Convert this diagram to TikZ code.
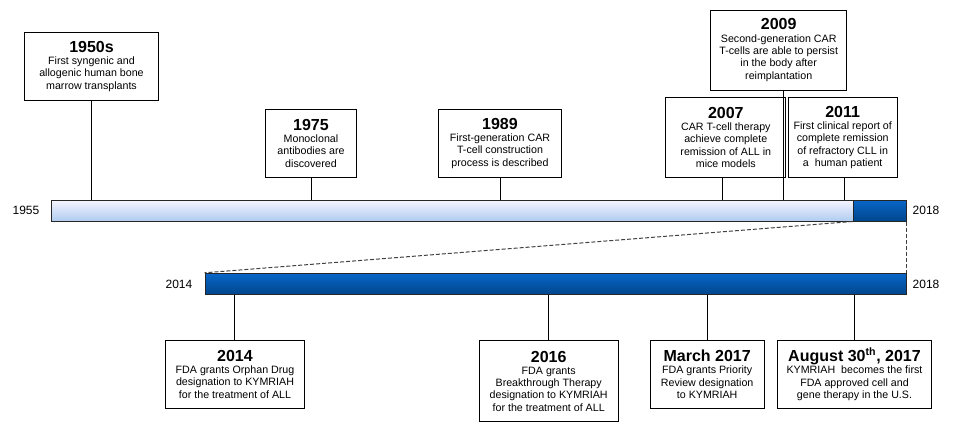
\documentclass[tikz,border=0pt]{standalone}
\usepackage{fontspec}
\setmainfont{Liberation Sans}
\begin{document}
\begin{tikzpicture}[x=0.75pt,y=-0.75pt,
  evbox/.style={draw=black,line width=0.75pt,fill=white,align=center,
    inner xsep=2pt,inner ysep=0pt,
    font=\fontsize{8}{9.2}\selectfont},
  ttl/.style={},
  yearlbl/.style={font=\fontsize{9}{10}\selectfont,inner sep=0pt},
  conn/.style={draw=black,line width=0.75pt},
  dashconn/.style={draw=black!75,line width=0.75pt,dash pattern=on 3pt off 1.5pt},
  lightbar/.style={draw=black!85,line width=0.75pt,top color=blue!4!white,bottom color={rgb,255:red,176;green,204;blue,240},inner sep=0pt},
  darkbar/.style={draw=black!85,line width=0.75pt,top color={rgb,255:red,8;green,102;blue,200},bottom color={rgb,255:red,0;green,70;blue,140},inner sep=0pt}
]
\newcommand{\yr}[1]{{\fontsize{12}{14}\selectfont\bfseries #1}}
\useasboundingbox (0,0) rectangle (954,432);

% bars
\node[lightbar,minimum width=601.5pt,minimum height=15.75pt] (top) at (452,210.5) {};
\node[darkbar,minimum width=39.75pt,minimum height=15.75pt] (topdark) at (879.5,210.5) {};
\node[darkbar,minimum width=525.75pt,minimum height=15.75pt] (bot) at (555.5,283.8) {};

% year labels
\node[yearlbl] (y1955) at (26,210) {1955};
\node[yearlbl] (y2018a) at (926,210) {2018};
\node[yearlbl] (y2014) at (179,284) {2014};
\node[yearlbl] (y2018b) at (926,284) {2018};

% zoom dashed lines
\draw[dashconn] (topdark.south west) -- (bot.north west);
\draw[dashconn] (topdark.south east) -- (bot.north east);

% upper boxes
\node[evbox,minimum width=100.8pt,minimum height=51pt] (b1950) at (91.5,66.3)
  {\yr{1950s}\\First syngenic and\\allogenic human bone\\marrow transplants};
\node[evbox,minimum width=68.6pt,minimum height=51pt] (b1975) at (311,143.3)
  {\yr{1975}\\Monoclonal\\antibodies are\\discovered};
\node[evbox,minimum width=92.5pt,minimum height=51pt] (b1989) at (500,143.3)
  {\yr{1989}\\First-generation CAR\\T-cell construction\\process is described};
\node[evbox,minimum width=89.8pt,minimum height=60pt] (b2007) at (725.8,137.3)
  {\yr{2007}\\CAR T-cell therapy\\achieve complete\\remission of ALL in\\mice models};
\node[evbox,minimum width=102pt,minimum height=60pt] (b2009) at (778.7,50)
  {\yr{2009}\\Second-generation CAR\\T-cells are able to persist\\in the body after\\reimplantation};
\node[evbox,minimum width=81.5pt,minimum height=60pt] (b2011) at (842.7,137.3)
  {\yr{2011}\\First clinical report of\\complete remission\\of refractory CLL in\\a\ \ human patient};

% lower boxes
\node[evbox,minimum width=104pt,minimum height=51pt] (c2014) at (235,374.3)
  {\yr{2014}\\FDA grants Orphan Drug\\designation to KYMRIAH\\for the treatment of ALL};
\node[evbox,minimum width=104.5pt,minimum height=61pt] (c2016) at (548.7,381)
  {\yr{2016}\\FDA grants\\Breakthrough Therapy\\designation to KYMRIAH\\for the treatment of ALL};
\node[evbox,minimum width=85.7pt,minimum height=51pt] (c2017m) at (707.2,374.3)
  {\yr{March 2017}\\FDA grants Priority\\Review designation\\to KYMRIAH};
\node[evbox,minimum width=115.8pt,minimum height=51pt] (c2017a) at (854.5,374.3)
  {\yr{August 30\textsuperscript{th}, 2017}\\KYMRIAH\ \ becomes the first\\FDA approved cell and\\gene therapy in the U.S.};

% connector anchor points on the bars
\coordinate (t1950) at (91.7,200);
\coordinate (t1975) at (311.7,200);
\coordinate (t1989) at (500.7,200);
\coordinate (t2007) at (722.3,200);
\coordinate (t2009) at (783.3,200);
\coordinate (t2011) at (844.3,200);
\coordinate (u2014) at (234.3,294.3);
\coordinate (u2016) at (548.3,294.3);
\coordinate (u2017m) at (707.7,294.3);
\coordinate (u2017a) at (854.3,294.3);

\draw[conn] (t1950 |- b1950.south) -- (t1950 |- top.north);
\draw[conn] (t1975 |- b1975.south) -- (t1975 |- top.north);
\draw[conn] (t1989 |- b1989.south) -- (t1989 |- top.north);
\draw[conn] (t2007 |- b2007.south) -- (t2007 |- top.north);
\draw[conn] (t2009 |- b2009.south) -- (t2009 |- top.north);
\draw[conn] (t2011 |- b2011.south) -- (t2011 |- top.north);
\draw[conn] (u2014 |- bot.south) -- (u2014 |- c2014.north);
\draw[conn] (u2016 |- bot.south) -- (u2016 |- c2016.north);
\draw[conn] (u2017m |- bot.south) -- (u2017m |- c2017m.north);
\draw[conn] (u2017a |- bot.south) -- (u2017a |- c2017a.north);
\end{tikzpicture}
\end{document}
